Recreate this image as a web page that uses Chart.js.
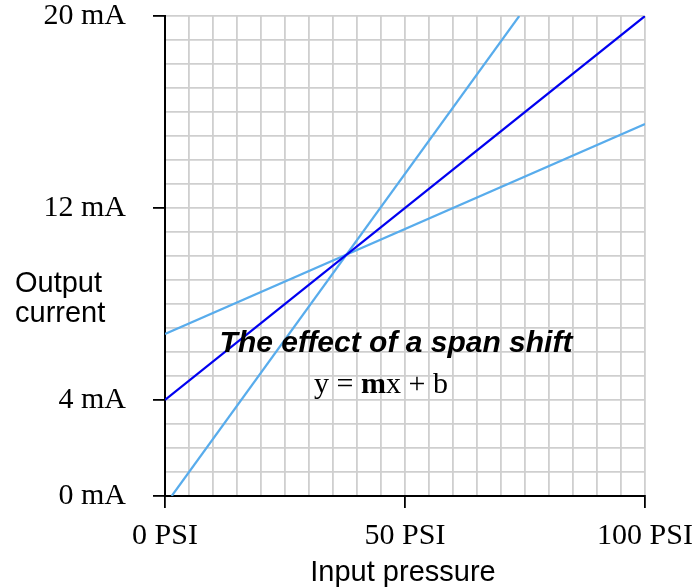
<!DOCTYPE html>
<html>
<head>
<meta charset="utf-8">
<script src="https://cdn.jsdelivr.net/npm/chart.js@4"></script>
<style>
  html, body { margin: 0; padding: 0; background: #fff; }
  #wrap { width: 695px; height: 588px; }
</style>
</head>
<body>
<div id="wrap"><canvas id="spanChart" width="695" height="588"></canvas></div>
<script>
// values
const normalPressure = [0, 100];
const normalCurrent = [4, 20];
const highSpanPressure = [1.4, 73.8];
const highSpanCurrent = [0, 20];
const lowSpanPressure = [0, 100];
const lowSpanCurrent = [6.75, 15.5];
const pressureLabels = [0, 50, 100];
const currentLabels = [0, 4, 12, 20];

const SERIF = '"Liberation Serif", "Times New Roman", serif';
const SANS = '"Liberation Sans", Arial, sans-serif';

const toPoints = (xs, ys) => xs.map((x, i) => ({ x: x, y: ys[i] }));

const textPlugin = {
  id: 'spanText',
  afterDatasetsDraw(chart) {
    const ctx = chart.ctx;
    ctx.save();
    ctx.fillStyle = '#000';
    ctx.textBaseline = 'alphabetic';

    ctx.font = '29px ' + SANS;
    ctx.textAlign = 'left';
    ctx.fillText('Output', 15, 292);
    ctx.fillText('current', 15, 322);
    ctx.textAlign = 'center';
    ctx.fillText('Input pressure', 403, 581);

    ctx.font = 'italic bold 30px ' + SANS;
    ctx.fillText('The effect of a span shift', 396, 352);

    // y = mx + b, with the m in bold
    const parts = [['y = ', '30px ' + SERIF], ['m', 'bold 30px ' + SERIF], ['x + b', '30px ' + SERIF]];
    let total = 0;
    parts.forEach(p => { ctx.font = p[1]; total += ctx.measureText(p[0]).width; });
    let x = 381 - total / 2;
    ctx.textAlign = 'left';
    parts.forEach(p => {
      ctx.font = p[1];
      ctx.fillText(p[0], x, 393);
      x += ctx.measureText(p[0]).width;
    });
    ctx.restore();
  }
};

const tickColor = (labels) => (c) => (c.tick && labels.includes(c.tick.value) ? '#000' : 'rgba(0,0,0,0)');

new Chart(document.getElementById('spanChart'), {
  type: 'scatter',
  data: {
    datasets: [
      {
        label: 'Normal',
        data: toPoints(normalPressure, normalCurrent),
        showLine: true,
        borderColor: '#0000f0',
        borderWidth: 2.2,
        pointRadius: 0
      },
      {
        label: 'Span increased',
        data: toPoints(highSpanPressure, highSpanCurrent),
        showLine: true,
        borderColor: '#58acec',
        borderWidth: 2.2,
        pointRadius: 0
      },
      {
        label: 'Span decreased',
        data: toPoints(lowSpanPressure, lowSpanCurrent),
        showLine: true,
        borderColor: '#58acec',
        borderWidth: 2.2,
        pointRadius: 0
      }
    ]
  },
  options: {
    responsive: false,
    animation: false,
    layout: { padding: { top: 16, right: 50, left: 0, bottom: 0 } },
    plugins: {
      legend: { display: false },
      tooltip: { enabled: false }
    },
    scales: {
      x: {
        type: 'linear',
        min: 0,
        max: 100,
        afterFit: (scale) => {
          scale.height = 92;
          scale.paddingLeft = 0;
          scale.paddingRight = 0;
        },
        ticks: {
          stepSize: 5,
          autoSkip: false,
          maxRotation: 0,
          padding: 10,
          color: '#000',
          font: { family: SERIF, size: 30 },
          callback: (v) => (pressureLabels.includes(v) ? v + ' PSI' : '')
        },
        grid: {
          color: '#cfcfcf',
          lineWidth: 1.8,
          tickLength: 12,
          tickWidth: 1.8,
          tickColor: tickColor(pressureLabels)
        },
        border: { color: '#000', width: 2 }
      },
      y: {
        type: 'linear',
        min: 0,
        max: 20,
        afterFit: (scale) => {
          scale.width = 165;
          scale.paddingTop = 0;
          scale.paddingBottom = 0;
        },
        ticks: {
          stepSize: 1,
          autoSkip: false,
          padding: 27,
          color: '#000',
          font: { family: SERIF, size: 30 },
          callback: (v) => (currentLabels.includes(v) ? v + ' mA' : '')
        },
        grid: {
          color: '#cfcfcf',
          lineWidth: 1.8,
          tickLength: 12,
          tickWidth: 1.8,
          tickColor: tickColor(currentLabels)
        },
        border: { color: '#000', width: 2 }
      }
    }
  },
  plugins: [textPlugin]
});
</script>
</body>
</html>
